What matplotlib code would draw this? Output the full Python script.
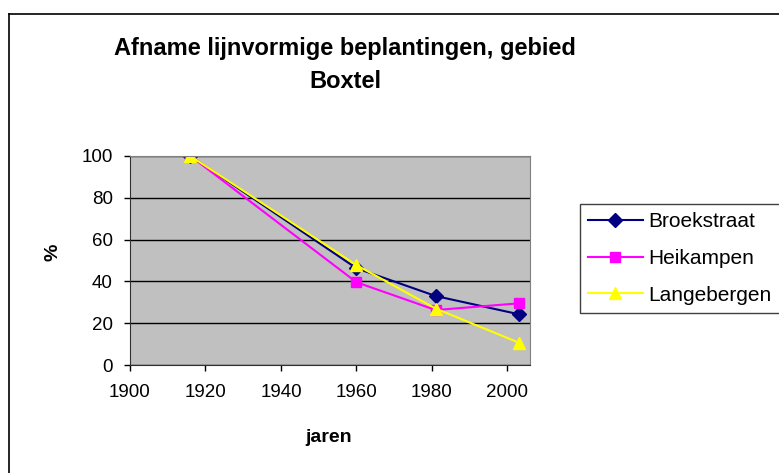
import matplotlib.pyplot as plt
from matplotlib.lines import Line2D

years = [1916, 1960, 1981, 2003]
broekstraat = [100, 46.3, 33, 24.3]
heikampen = [100, 39.6, 26.3, 29.5]
langebergen = [100, 47.8, 27, 10.7]
x_ticks = [1900, 1920, 1940, 1960, 1980, 2000]
y_ticks = [0, 20, 40, 60, 80, 100]

plt.rcParams['font.family'] = ['Liberation Sans', 'DejaVu Sans']

W, H = 779, 473
fig = plt.figure(figsize=(W / 100, H / 100), dpi=100)

# chart border (only top and left edges fall inside the picture)
fig.add_artist(Line2D([9 / W, 1], [1 - 14 / H, 1 - 14 / H], transform=fig.transFigure, color='black', linewidth=1.2))
fig.add_artist(Line2D([9 / W, 9 / W], [0, 1 - 14 / H], transform=fig.transFigure, color='black', linewidth=1.2))

ax = fig.add_axes([130 / W, 1 - 365 / H, 400 / W, 209 / H])
ax.set_facecolor('#c0c0c0')

ax.plot(years, broekstraat, color='#000080', marker='D', markersize=7, linewidth=1.5, label='Broekstraat')
ax.plot(years, heikampen, color='#ff00ff', marker='s', markersize=7, linewidth=1.5, label='Heikampen')
ax.plot(years, langebergen, color='#ffff00', marker='^', markersize=9, linewidth=1.5, label='Langebergen')

ax.set_xlim(1900, 2006)
ax.set_ylim(0, 100)
ax.set_xticks(x_ticks)
ax.set_yticks(y_ticks)
ax.yaxis.grid(True, color='black', linewidth=1)
ax.set_axisbelow(True)
ax.tick_params(labelsize=13.5, direction='out', length=4.5, width=1)
ax.tick_params(axis='x', pad=9)
ax.tick_params(axis='y', pad=8)
for s in ['top', 'right']:
    ax.spines[s].set_color('#808080')
for s in ['left', 'bottom']:
    ax.spines[s].set_color('#303030')

fig.text(329 / W, 1 - 437 / H, 'jaren', ha='center', va='center', fontsize=14, fontweight='bold')
fig.text(53 / W, 1 - 252 / H, '%', ha='center', va='center', fontsize=14, fontweight='bold', rotation=90)

fig.text(345 / W, 1 - 49 / H, 'Afname lijnvormige beplantingen, gebied', ha='center', va='center',
         fontsize=17, fontweight='bold')
fig.text(345 / W, 1 - 82 / H, 'Boxtel', ha='center', va='center', fontsize=17, fontweight='bold')

leg = fig.legend(loc='upper left', bbox_to_anchor=(580 / W, 1 - 204 / H), fontsize=15,
                 frameon=True, fancybox=False, edgecolor='#404040', borderpad=0.4, borderaxespad=0,
                 handlelength=2.6, handletextpad=0.3, labelspacing=0.85, framealpha=1)
leg.get_frame().set_linewidth(1)

fig.savefig('out.png', dpi=100)
